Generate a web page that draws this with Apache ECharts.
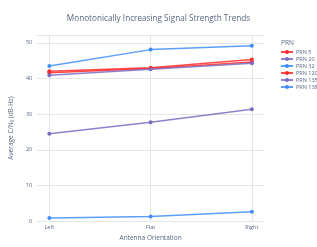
<!DOCTYPE html>
<html><head><meta charset="utf-8">
<script src="https://cdn.jsdelivr.net/npm/echarts@6/dist/echarts.min.js"></script>
<style>html,body{margin:0;padding:0;background:#fff}#c{width:317px;height:247px}</style>
</head><body><div id="c"></div>
<script>
const categories = ['Left', 'Flat', 'Right'];
const seriesNames = ['PRN 5', 'PRN 20', 'PRN 32', 'PRN 120', 'PRN 135', 'PRN 138'];
const prn5 = [42.0, 43.0, 45.3];
const prn20 = [24.5, 27.7, 31.4];
const prn32 = [0.9, 1.3, 2.6];
const prn120 = [41.6, 42.8, 44.6];
const prn135 = [40.9, 42.6, 44.3];
const prn138 = [43.5, 48.1, 49.2];
const yTicks = [0, 10, 20, 30, 40, 50];

const values = [prn5, prn20, prn32, prn120, prn135, prn138];
const colors = ['#ff2a2a', '#7b6bc2', '#3f8ef8', '#ff2a2a', '#7b6bc2', '#3f8ef8'];
const idx = categories.map((c, i) => i);
const txt = '#5a6680';

const chart = echarts.init(document.getElementById('c'), null, {renderer: 'canvas'});
chart.setOption({
  animation: false,
  title: [
    {text: 'Monotonically Increasing Signal Strength Trends', left: 'center', top: 10,
     textStyle: {fontSize: 8.2, fontWeight: 'normal', color: txt, fontFamily: 'Open Sans, sans-serif'}},
    {text: 'PRN', left: 276, top: 35,
     textStyle: {fontSize: 6.5, fontWeight: 'normal', color: txt, fontFamily: 'Open Sans, sans-serif'}}
  ],
  legend: {
    orient: 'vertical', left: 275, top: 44, itemWidth: 12, itemHeight: 5, itemGap: 1,
    data: seriesNames,
    textStyle: {fontSize: 5.5, color: txt, fontFamily: 'Open Sans, sans-serif', padding: [0, 0, 0, -2]}
  },
  grid: {left: 25, right: 53, top: 35, bottom: 25},
  xAxis: {
    type: 'value', min: -0.12, max: 2.12,
    name: 'Antenna Orientation', nameLocation: 'middle', nameGap: 13,
    nameTextStyle: {fontSize: 6.5, color: txt, fontFamily: 'Open Sans, sans-serif'},
    axisLine: {show: false},
    axisTick: {show: false, customValues: idx},
    axisLabel: {customValues: idx, formatter: v => categories[Math.round(v)] || '', fontSize: 5.5, color: txt, margin: 3, fontFamily: 'Open Sans, sans-serif'},
    splitLine: {show: true, lineStyle: {color: '#e6e6e6', width: 1}}
  },
  yAxis: {
    type: 'value', min: 0, max: 52.2, interval: 10,
    name: 'Average C/N₀ (dB-Hz)', nameLocation: 'middle', nameGap: 17,
    nameTextStyle: {fontSize: 6.5, color: txt, fontFamily: 'Open Sans, sans-serif'},
    axisLine: {show: false}, axisTick: {show: false},
    axisLabel: {customValues: yTicks, fontSize: 5.5, color: txt, margin: 5, fontFamily: 'Open Sans, sans-serif'},
    splitLine: {show: true, lineStyle: {color: '#e6e6e6', width: 1}}
  },
  series: seriesNames.map((n, i) => ({
    name: n, type: 'line',
    data: values[i].map((v, j) => [idx[j], v]),
    symbol: 'circle', symbolSize: 4, showSymbol: true,
    itemStyle: {color: colors[i]},
    lineStyle: {color: colors[i], width: 1.5, opacity: 0.85}
  }))
});
</script></body></html>
